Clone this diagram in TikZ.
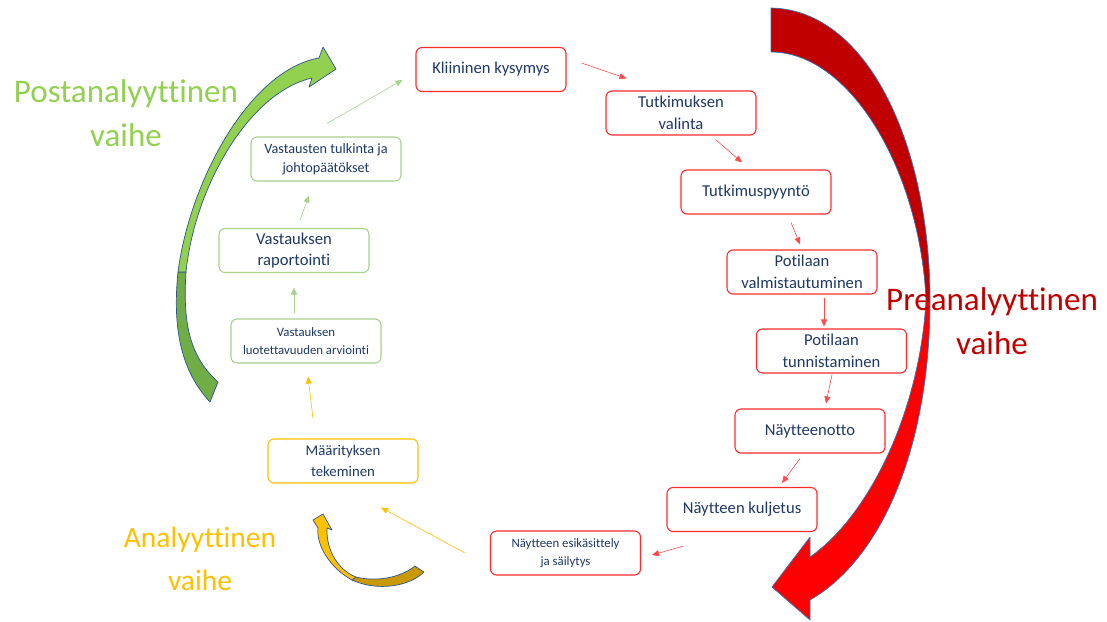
\documentclass[tikz,border=0pt]{standalone}
\usepackage{fontspec}
\setmainfont[Ligatures=NoCommon]{Carlito}
\usetikzlibrary{arrows.meta,calc}
\definecolor{navytext}{HTML}{1F3864}
\definecolor{boxred}{HTML}{FF2A2A}
\definecolor{linered}{HTML}{FF4A4A}
\definecolor{boxgreen}{HTML}{A9D18E}
\definecolor{boxyellow}{HTML}{FFC000}
\definecolor{predark}{HTML}{C00000}
\definecolor{prebright}{HTML}{FF0000}
\definecolor{postlight}{HTML}{92D050}
\definecolor{postdark}{HTML}{70AD47}
\definecolor{analight}{HTML}{FFC000}
\definecolor{anadark}{HTML}{C99A06}
\definecolor{outblue}{HTML}{2E75B6}
\definecolor{outnavy}{HTML}{2F528F}

\begin{document}
\begin{tikzpicture}[x=1pt, y=-1pt,
      box/.style={fill=white, rounded corners=6pt, line width=1.1pt, align=center,
                  minimum width=150pt, minimum height=44pt, inner sep=2pt, text=navytext},
      redbox/.style={box, draw=boxred},
      greenbox/.style={box, draw=boxgreen},
      yellowbox/.style={box, draw=boxyellow},
      big/.style={font=\fontsize{16.6}{21.5}\selectfont},
      mid/.style={font=\fontsize{14.2}{19}\selectfont},
      small/.style={font=\fontsize{12.8}{17.5}\selectfont},
      arr/.style={-{Triangle[length=7pt,width=6pt]}, line width=0.6pt},
      redarr/.style={arr, linered},
      greenarr/.style={arr, boxgreen},
      yellowarr/.style={arr, boxyellow},
      bigarr/.style={draw, line width=0.7pt, line join=round},
      phase/.style={align=center, font=\fontsize{33}{44}\selectfont}]
    \useasboundingbox (0,0) rectangle (1107,621);

    % the three phase arrows
    \draw[bigarr, draw=outblue, fill=predark] (771,8) .. controls (870,10) and (930,150) .. (930,300)
      -- (926,300) .. controls (920,170) and (850,52) .. (771,52) -- cycle;
    \draw[bigarr, draw=outblue, fill=prebright] (930,300) .. controls (930,450) and (880,560) .. (810,600)
      -- (810,620) -- (772,587) -- (810,537) -- (810,557)
      .. controls (870,515) and (920,410) .. (926,300) -- cycle;
    \draw[bigarr, draw=outnavy, fill=postdark] (210,402) .. controls (182,372) and (172,330) .. (178,272)
      -- (186,272) .. controls (183,320) and (188,355) .. (218,382) -- cycle;
    \draw[bigarr, draw=outnavy, fill=postlight] (178,272) .. controls (190,180) and (250,70) .. (319,58)
      -- (323,47) -- (336,69) -- (309,87) -- (312,78)
      .. controls (250,92) and (195,185) .. (186,272) -- cycle;
    \draw[bigarr, draw=outnavy, fill=anadark] (352,580) .. controls (378,592) and (410,586) .. (424,572)
      -- (415,566) .. controls (400,578) and (376,582) .. (356,577) -- cycle;
    \draw[bigarr, draw=outnavy, fill=analight] (352,580) .. controls (330,568) and (316,545) .. (318,528)
      -- (313,520) -- (323,514) -- (332,530) -- (327,528)
      .. controls (326,550) and (338,570) .. (356,577) -- cycle;

    \node[phase, text=postlight] (post) at (126,113) {Postanalyyttinen\\vaihe};
    \node[phase, text=predark] (pre) at (992,321) {Preanalyyttinen\\vaihe};
    \node[phase, text=boxyellow, font=\fontsize{29.5}{43}\selectfont] (ana) at (200,559) {Analyyttinen\\vaihe};

    % steps
    \node[redbox, big] (kysymys) at (491,69.5) {Kliininen kysymys};
    \node[redbox, big] (valinta) at (681,113) {Tutkimuksen\\valinta};
    \node[redbox, big] (pyynto) at (756,192) {Tutkimuspyyntö};
    \node[redbox, big] (valmist) at (802,272) {Potilaan\\valmistautuminen};
    \node[redbox, big] (tunnist) at (831.5,351) {Potilaan\\tunnistaminen};
    \node[redbox, big] (otto) at (810,431) {Näytteenotto};
    \node[redbox, big] (kuljetus) at (742,509.5) {Näytteen kuljetus};
    \node[redbox, small] (esik) at (565.5,553) {Näytteen esikäsittely\\ja säilytys};
    \node[yellowbox, font=\fontsize{14.8}{21}\selectfont] (maar) at (343,461) {Määrityksen\\tekeminen};
    \node[greenbox, small] (luot) at (306,341) {Vastauksen\\luotettavuuden arviointi};
    \node[greenbox, big] (rapor) at (294,250.5) {Vastauksen\\raportointi};
    \node[greenbox, mid] (tulk) at (326,159) {Vastausten tulkinta ja\\johtopäätökset};

    % connectors
    \draw[redarr] ($(kysymys.east)+(15,-6.5)$) -- ($(valinta.north)+(-54.5,-12)$);
    \draw[redarr] ($(valinta.south)+(34.5,4)$) -- ($(pyynto.north)+(-14,-7)$);
    \draw[redarr] ($(pyynto.south)+(35,8)$) -- ($(valmist.north)+(-2,-5)$);
    \draw[redarr] ($(valmist.south)+(22,3)$) -- ($(tunnist.north)+(-7.5,-2)$);
    \draw[redarr] ($(tunnist.south)+(0.5,1)$) -- ($(otto.north)+(16,-5)$);
    \draw[redarr] ($(otto.south)+(-10,5)$) -- ($(kuljetus.north)+(40,-4)$);
    \draw[redarr] ($(kuljetus.south west)+(17,14)$) -- ($(esik.east)+(11,2)$);
    \draw[yellowarr] ($(esik.west)+(-25,0)$) -- ($(maar.south)+(38,24)$);
    \draw[yellowarr] ($(maar.north)+(-30,-20)$) -- ($(luot.south)+(2,13)$);
    \draw[greenarr] ($(luot.north)+(-12,-5)$) -- ($(rapor.south)+(0,14.5)$);
    \draw[greenarr] ($(rapor.north)+(6,-8)$) -- ($(tulk.south)+(-17,14)$);
    \draw[greenarr] ($(tulk.north)+(1,-13)$) -- ($(kysymys.west)+(-13,10.5)$);
  \end{tikzpicture}
\end{document}
